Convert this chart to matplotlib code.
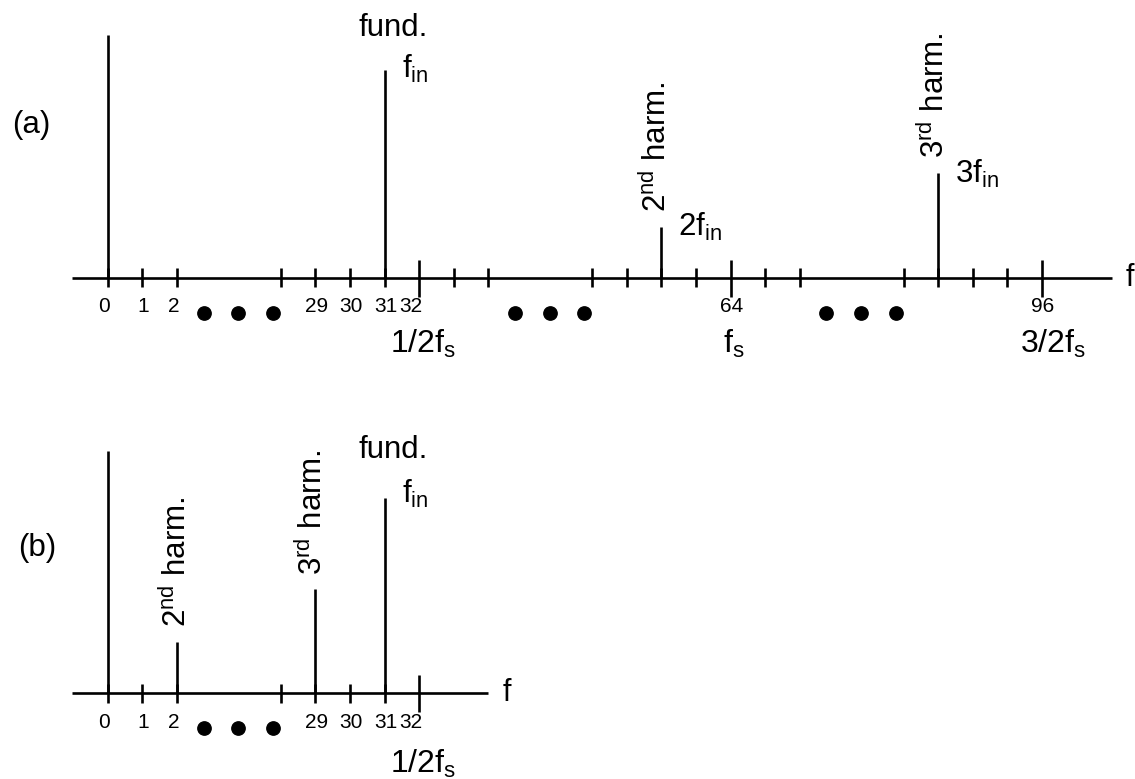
import matplotlib
matplotlib.use("Agg")
import matplotlib.pyplot as plt

plt.rcParams["font.family"] = ["Liberation Sans", "DejaVu Sans"]
plt.rcParams["mathtext.fontset"] = "custom"
plt.rcParams["mathtext.rm"] = "Liberation Sans"
plt.rcParams["mathtext.it"] = "Liberation Sans:italic"
plt.rcParams["mathtext.bf"] = "Liberation Sans:bold"

# FFT bins shown on each axis (the axis is broken between groups)
ticks_a = [0, 1, 2, 28, 29, 30, 31, 32, 33, 34, 60, 61, 62, 63, 64, 65, 66,
           92, 93, 94, 95, 96]
ticks_b = [0, 1, 2, 28, 29, 30, 31, 32]
labeled_bins = [0, 1, 2, 29, 30, 31, 32, 64, 96]
long_bins = [32, 64, 96]
fs_names = {32: "1/2f$_\\mathrm{s}$", 64: "f$_\\mathrm{s}$", 96: "3/2f$_\\mathrm{s}$"}

# spectral lines: (a) before sampling, (b) after aliasing
bins_a = [0, 31, 62, 93]
amps_a = [1.0, 0.856, 0.21, 0.43]
bins_b = [0, 2, 29, 31]
amps_b = [1.0, 0.213, 0.429, 0.805]

SLOT_PX = 34.6
ZERO_PX = 107.7
W, H = 1135, 779
LW = 1.9


def to_slot(b):
    """Map an FFT bin onto the broken (schematic) axis."""
    if b <= 2:
        return b
    if b <= 34:
        return b - 23
    if b <= 66:
        return b - 46
    return b - 69


def setup_axes(fig, bottom_px, top_px, axis_px, unit_px):
    ax = fig.add_axes([0, 1 - bottom_px / H, 1, (bottom_px - top_px) / H])
    ax.set_xlim(-ZERO_PX / SLOT_PX, (W - ZERO_PX) / SLOT_PX)
    ax.set_ylim(-(bottom_px - axis_px) / unit_px, (axis_px - top_px) / unit_px)
    ax.axis("off")
    return ax


def draw_axis(ax, ticks, x_end, unit_px):
    ax.hlines(0, -1.03, x_end, color="k", lw=LW)
    for b in ticks:
        s = to_slot(b)
        if b in long_bins:
            ax.vlines(s, -19 / unit_px, 18 / unit_px, color="k", lw=LW)
        else:
            ax.vlines(s, -9.5 / unit_px, 9.5 / unit_px, color="k", lw=LW)
        if b in labeled_bins:
            nudge = {0: -4, 2: -3, 32: -8}.get(b, 1)
            ax.annotate(str(b), (s, 0), xytext=(nudge, -29),
                        textcoords="offset pixels", ha="center", va="center",
                        fontsize=15)
    # ellipsis dots in each break of the axis
    gaps = [to_slot(2)]
    if max(ticks) > 34:
        gaps += [to_slot(34), to_slot(66)]
    for g in gaps:
        ax.plot([g + 0.77, g + 1.77, g + 2.77], [-35 / unit_px] * 3, "o",
                color="k", ms=9.6)
    ax.annotate("f", (x_end, 0), xytext=(14, -8), textcoords="offset pixels",
                ha="left", va="baseline", fontsize=22)


def harm_label(ax, b, amp, text, dx, dy=15):
    ax.annotate(text, (to_slot(b), amp), xytext=(dx, dy),
                textcoords="offset pixels", rotation=90,
                rotation_mode="anchor", ha="left", va="baseline", fontsize=22.5)


def sub_label(ax, b, amp, text, dx, dy):
    ax.annotate(text, (to_slot(b), amp), xytext=(dx, dy),
                textcoords="offset pixels", ha="left", va="baseline",
                fontsize=22.5)


fig = plt.figure(figsize=(W / 100, H / 100), dpi=100)

# ---- (a) ----
unit_a = 242.7
ax_a = setup_axes(fig, 389.5, 0, 277.7, unit_a)
draw_axis(ax_a, ticks_a, to_slot(96) + 2.02, unit_a)
ax_a.vlines([to_slot(b) for b in bins_a], 0, amps_a, color="k", lw=LW)
ax_a.annotate("fund.", (to_slot(31), amps_a[1]), xytext=(9, 34),
              textcoords="offset pixels", ha="center", va="baseline",
              fontsize=22.5)
sub_label(ax_a, 31, amps_a[1], "f$_\\mathrm{in}$", 17, -8)
harm_label(ax_a, 62, amps_a[2], "2$^\\mathrm{nd}$ harm.", 5)
sub_label(ax_a, 62, amps_a[2], "2f$_\\mathrm{in}$", 17, -9)
harm_label(ax_a, 93, amps_a[3], "3$^\\mathrm{rd}$ harm.", 6)
sub_label(ax_a, 93, amps_a[3], "3f$_\\mathrm{in}$", 17, -10)
for b, dx in [(32, -29), (64, -8), (96, -22)]:
    ax_a.annotate(fs_names[b], (to_slot(b), 0), xytext=(dx, -75),
                  textcoords="offset pixels", ha="left", va="baseline",
                  fontsize=23)
fig.text(11.7 / W, 1 - 125 / H, "(a)", ha="left", va="center", fontsize=22.5)

# ---- (b) ----
unit_b = 242.6
ax_b = setup_axes(fig, H, 389.5, 693.3, unit_b)
draw_axis(ax_b, ticks_b, to_slot(32) + 2.0, unit_b)
ax_b.vlines([to_slot(b) for b in bins_b], 0, amps_b, color="k", lw=LW)
harm_label(ax_b, 2, amps_b[1], "2$^\\mathrm{nd}$ harm.", 9)
harm_label(ax_b, 29, amps_b[2], "3$^\\mathrm{rd}$ harm.", 7, 14)
ax_b.annotate("fund.", (to_slot(31), amps_b[3]), xytext=(9, 40),
              textcoords="offset pixels", ha="center", va="baseline",
              fontsize=22.5)
sub_label(ax_b, 31, amps_b[3], "f$_\\mathrm{in}$", 18, -5)
ax_b.annotate(fs_names[32], (to_slot(32), 0), xytext=(-29, -80),
              textcoords="offset pixels", ha="left", va="baseline",
              fontsize=23)
fig.text(18 / W, 1 - 548 / H, "(b)", ha="left", va="center", fontsize=22.5)

fig.savefig("out.png", dpi=100)
plt.close(fig)
